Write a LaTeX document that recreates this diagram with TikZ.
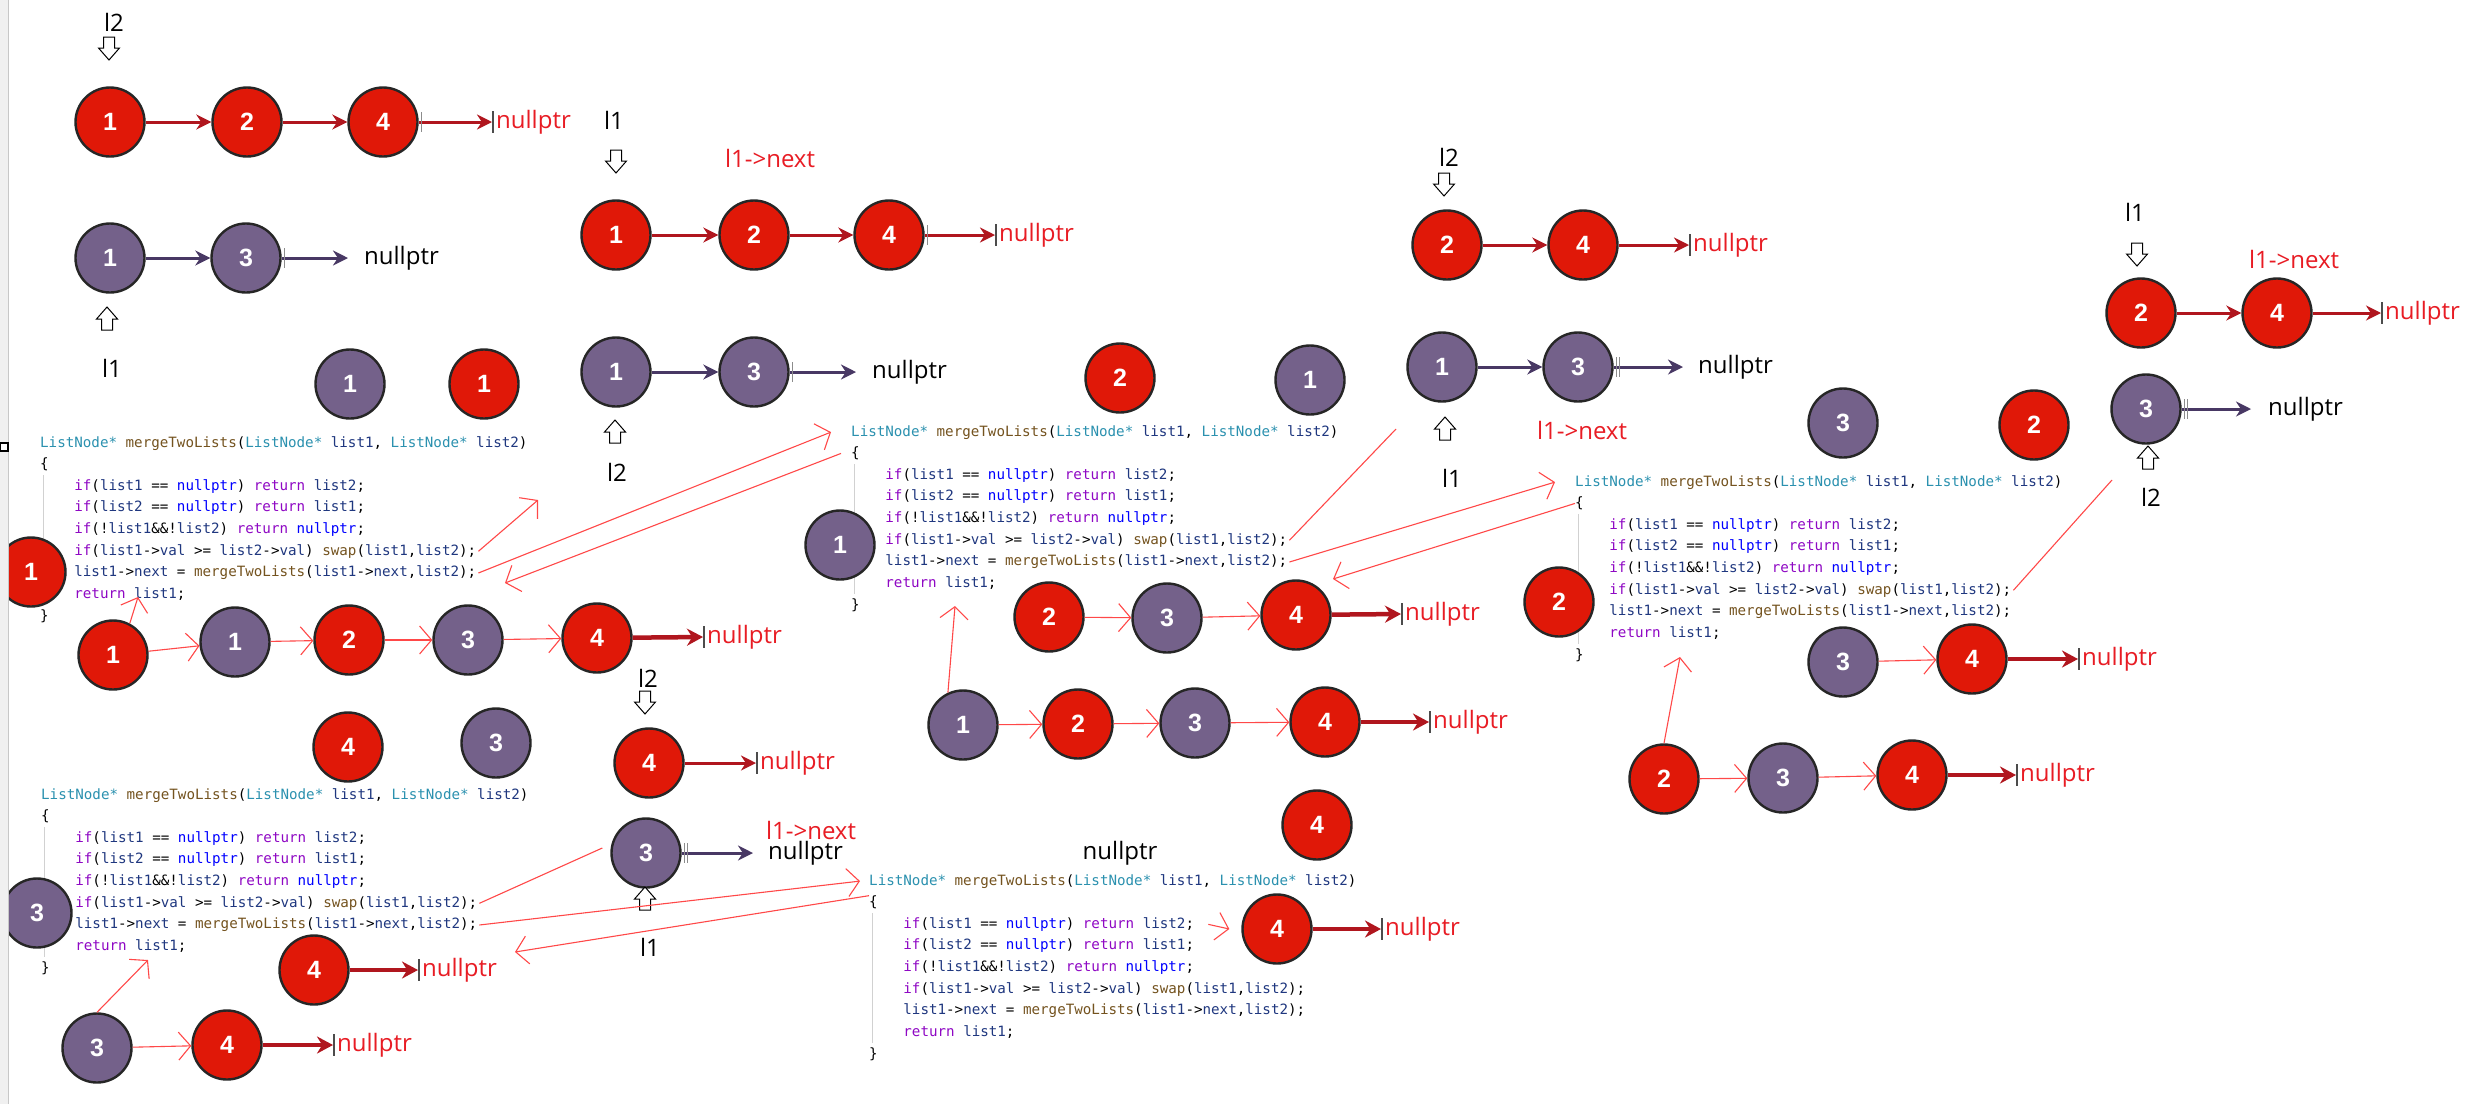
\documentclass[tikz,border=0pt]{standalone}
\usepackage{fontspec}
\usetikzlibrary{arrows.meta,calc}
\newfontfamily\lblfont{Open Sans}
\newfontfamily\digitfamily{Liberation Sans}
\newfontfamily\codefont{DejaVu Sans Mono}

\definecolor{nodered}{RGB}{224,24,8}
\definecolor{nodepurple}{RGB}{116,97,138}
\definecolor{linkred}{RGB}{176,22,30}
\definecolor{linkpurple}{RGB}{72,56,100}
\definecolor{penred}{RGB}{255,72,72}
\definecolor{nulred}{RGB}{232,28,36}
\definecolor{cType}{RGB}{43,145,175}
\definecolor{cFunc}{RGB}{116,83,31}
\definecolor{cKey}{RGB}{143,8,196}
\definecolor{cNull}{RGB}{0,0,255}
\definecolor{cVar}{RGB}{31,55,127}

\newcommand\cdTy[1]{\textcolor{cType}{#1}}
\newcommand\cdFn[1]{\textcolor{cFunc}{#1}}
\newcommand\cdKw[1]{\textcolor{cKey}{#1}}
\newcommand\cdNu[1]{\textcolor{cNull}{#1}}
\newcommand\cdVa[1]{\textcolor{cVar}{#1}}

\tikzset{
  lnode/.style={circle, draw=black!85, line width=2.4pt, minimum size=69pt, inner sep=0pt,
    text=white, font=\digitfamily\bfseries\fontsize{25}{30}\selectfont},
  rnode/.style={lnode, fill=nodered},
  pnode/.style={lnode, fill=nodepurple},
  lbl/.style={inner sep=0pt, font=\lblfont\fontsize{24}{28}\selectfont},
  rednull/.style={lbl, anchor=west, text=nulred},
  blacknull/.style={lbl, anchor=west, text=black},
  nexttxt/.style={lbl, text=nulred},
  redlink/.style={draw=linkred, line width=3pt, -{Stealth[length=15pt,width=15pt]}},
  purplelink/.style={draw=linkpurple, line width=3pt, -{Stealth[length=15pt,width=15pt]}},
  boldlink/.style={draw=linkred, line width=4.5pt, -{Stealth[length=16pt,width=17pt]}},
  penarrow/.style={draw=penred, line width=1.1pt, -{Straight Barb[length=12pt,width=28pt]}},
  penstroke/.style={draw=penred, line width=1.1pt},
  endbar/.style={draw=black!70, line width=1.4pt},
  hollowarrow/.style={draw=black, line width=1pt, fill=white, line join=miter},
  codeline/.style={anchor=base west, inner sep=0pt, font=\codefont\fontsize{14.2}{21.65}\selectfont},
  indentguide/.style={draw=black!18, line width=1pt},
}

% outlined block arrows (pointer markers)
\newcommand\hollowdown[2]{%
  \draw[hollowarrow] (#1-5.5,#2) -- (#1+5.5,#2) -- (#1+5.5,#2+11) -- (#1+10.5,#2+11)
    -- (#1,#2+23) -- (#1-10.5,#2+11) -- (#1-5.5,#2+11) -- cycle;}
\newcommand\hollowup[2]{%
  \draw[hollowarrow] (#1,#2) -- (#1+10.5,#2+12) -- (#1+5.5,#2+12) -- (#1+5.5,#2+23)
    -- (#1-5.5,#2+23) -- (#1-5.5,#2+12) -- (#1-10.5,#2+12) -- cycle;}

% the recursive merge function, one node per line
\newcommand\codeblock[3]{%
  \draw[indentguide] (#2+3,#3+28) -- (#2+3,#3+158);
  \node[codeline] (#1-1) at (#2,#3) {\cdTy{ListNode*} \cdFn{mergeTwoLists}(\cdTy{ListNode*} \cdVa{list1}, \cdTy{ListNode*} \cdVa{list2})};
  \node[codeline] (#1-2) at (#2,#3+21.65) {\{};
  \node[codeline] (#1-3) at (#2+34.2,#3+43.3) {\cdKw{if}(\cdVa{list1} == \cdNu{nullptr}) \cdKw{return} \cdVa{list2};};
  \node[codeline] (#1-4) at (#2+34.2,#3+64.95) {\cdKw{if}(\cdVa{list2} == \cdNu{nullptr}) \cdKw{return} \cdVa{list1};};
  \node[codeline] (#1-5) at (#2+34.2,#3+86.6) {\cdKw{if}(!\cdVa{list1}\&\&!\cdVa{list2}) \cdKw{return} \cdNu{nullptr};};
  \node[codeline] (#1-6) at (#2+34.2,#3+108.25) {\cdKw{if}(\cdVa{list1}->\cdVa{val} >= \cdVa{list2}->\cdVa{val}) \cdFn{swap}(\cdVa{list1},\cdVa{list2});};
  \node[codeline] (#1-7) at (#2+34.2,#3+129.9) {\cdVa{list1}->\cdVa{next} = \cdFn{mergeTwoLists}(\cdVa{list1}->\cdVa{next},\cdVa{list2});};
  \node[codeline] (#1-8) at (#2+34.2,#3+151.55) {\cdKw{return} \cdVa{list1};};
  \node[codeline] (#1-9) at (#2,#3+173.2) {\}};
}

\begin{document}
\begin{tikzpicture}[x=1pt,y=-1pt]
\useasboundingbox (0,0) rectangle (2485,1104);
\fill[white] (0,0) rectangle (2485,1104);

% ---------- code blocks ----------
\codeblock{C}{40}{447}
\codeblock{D}{41}{799}
\codeblock{E}{869}{885}
\codeblock{F}{851}{436}
\codeblock{H}{1575}{486}

% ---------- initial lists ----------
\node[lbl] (A-l2) at (114,22) {l2};
\hollowdown{109}{37}
\node[rnode] (A-r1) at (110,122) {1};
\node[rnode] (A-r2) at (247,122) {2};
\node[rnode] (A-r4) at (383,122) {4};
\node[rednull] (A-n) at (496,122) {nullptr};
\node[pnode] (A-p1) at (110,258) {1};
\node[pnode] (A-p3) at (246,258) {3};
\node[blacknull] (A-pn) at (364,258) {nullptr};
\hollowup{107}{307}
\node[lbl] (A-l1) at (112,368) {l1};

% ---------- first call ----------
\node[lbl] (B-l1) at (614,120) {l1};
\hollowdown{616}{150}
\node[nexttxt] (B-nx) at (770,158) {l1->next};
\node[rnode] (B-r1) at (616,235) {1};
\node[rnode] (B-r2) at (754,235) {2};
\node[rnode] (B-r4) at (889,235) {4};
\node[rednull] (B-n) at (999,235) {nullptr};
\node[pnode] (B-p1) at (616,372) {1};
\node[pnode] (B-p3) at (754,372) {3};
\node[blacknull] (B-pn) at (872,372) {nullptr};
\hollowup{615}{420}
\node[lbl] (B-l2) at (617,472) {l2};
\node[rnode] (B-x2) at (1120,378) {2};
\node[pnode] (B-x1) at (1310,380) {1};

\node[pnode] (C-x1) at (350,384) {1};
\node[rnode] (C-x1r) at (484,384) {1};
\node[rnode] (C-big) at (31,572) {1};
\node[rnode] (Cb-r1) at (113,655) {1};
\node[pnode] (Cb-p1) at (235,642) {1};
\node[rnode] (Cb-r2) at (349,640) {2};
\node[pnode] (Cb-p3) at (468,640) {3};
\node[rnode] (Cb-r4) at (597,638) {4};
\node[rednull] (Cb-n) at (707,637) {nullptr};

% ---------- deepest calls (lower left) ----------
\node[lbl] (D-l2) at (648,678) {l2};
\hollowdown{645}{691}
\node[rnode] (D-xr4) at (348,747) {4};
\node[pnode] (D-xp3) at (496,743) {3};
\node[rnode] (D-r4) at (649,763) {4};
\node[rednull] (D-n) at (760,763) {nullptr};
\node[pnode] (D-p3) at (646,853) {3};
\node[blacknull] (D-pn) at (768,853) {nullptr};
\node[nexttxt] (D-nx) at (811,830) {l1->next};
\hollowup{645}{887}
\node[lbl] (D-l1) at (650,947) {l1};
\node[pnode] (D-big) at (37,913) {3};
\node[rnode] (D-m4) at (314,970) {4};
\node[rednull] (D-mn) at (422,970) {nullptr};
\node[pnode] (Db-p3) at (97,1048) {3};
\node[rnode] (Db-r4) at (227,1045) {4};
\node[rednull] (Db-n) at (337,1045) {nullptr};

\node[lbl] (E-null) at (1120,853) {nullptr};
\node[rnode] (E-xr4) at (1317,825) {4};
\node[rnode] (E-r4) at (1277,929) {4};
\node[rednull] (E-n) at (1385,929) {nullptr};

% ---------- middle calls ----------
\node[pnode] (F-big) at (840,545) {1};
\node[rnode] (Fm-r2) at (1049,617) {2};
\node[pnode] (Fm-p3) at (1167,618) {3};
\node[rnode] (Fm-r4) at (1296,615) {4};
\node[rednull] (Fm-n) at (1405,614) {nullptr};
\node[pnode] (Fb-p1) at (963,725) {1};
\node[rnode] (Fb-r2) at (1078,724) {2};
\node[pnode] (Fb-p3) at (1195,723) {3};
\node[rnode] (Fb-r4) at (1325,722) {4};
\node[rednull] (Fb-n) at (1433,722) {nullptr};

\node[lbl] (G-l2) at (1449,157) {l2};
\hollowdown{1444}{173}
\node[rnode] (G-r2) at (1447,245) {2};
\node[rnode] (G-r4) at (1583,245) {4};
\node[rednull] (G-n) at (1693,245) {nullptr};
\node[pnode] (G-p1) at (1442,367) {1};
\node[pnode] (G-p3) at (1578,367) {3};
\node[blacknull] (G-pn) at (1698,367) {nullptr};
\hollowup{1445}{417}
\node[lbl] (G-l1) at (1452,478) {l1};
\node[nexttxt] (G-nx) at (1582,430) {l1->next};
\node[pnode] (G-xp3) at (1843,423) {3};
\node[rnode] (G-xr2) at (2034,425) {2};

\node[rnode] (H-big) at (1559,602) {2};
\node[pnode] (Hm-p3) at (1843,662) {3};
\node[rnode] (Hm-r4) at (1972,659) {4};
\node[rednull] (Hm-n) at (2082,659) {nullptr};
\node[rnode] (Hb-r2) at (1664,779) {2};
\node[pnode] (Hb-p3) at (1783,778) {3};
\node[rnode] (Hb-r4) at (1912,775) {4};
\node[rednull] (Hb-n) at (2020,775) {nullptr};

\node[lbl] (I-l1) at (2135,212) {l1};
\hollowdown{2137}{243}
\node[nexttxt] (I-nx) at (2294,259) {l1->next};
\node[rnode] (I-r2) at (2141,313) {2};
\node[rnode] (I-r4) at (2277,313) {4};
\node[rednull] (I-n) at (2385,313) {nullptr};
\node[pnode] (I-p3) at (2146,409) {3};
\node[blacknull] (I-pn) at (2268,409) {nullptr};
\hollowup{2148}{446}
\node[lbl] (I-l2) at (2151,497) {l2};

% ---------- list links ----------
\draw[redlink] (A-r1) -- (A-r2);
\draw[redlink] (A-r2) -- (A-r4);
\draw[redlink] (A-r4) -- ([xshift=-4pt]A-n.west);
\draw[purplelink] (A-p1) -- (A-p3);
\draw[purplelink] (A-p3) -- ([xshift=-16pt]A-pn.west);

\draw[redlink] (B-r1) -- (B-r2);
\draw[redlink] (B-r2) -- (B-r4);
\draw[redlink] (B-r4) -- ([xshift=-4pt]B-n.west);
\draw[purplelink] (B-p1) -- (B-p3);
\draw[purplelink] (B-p3) -- ([xshift=-16pt]B-pn.west);

\draw[boldlink] (Cb-r4) -- ([xshift=-4pt]Cb-n.west);
\draw[redlink] (D-r4) -- ([xshift=-4pt]D-n.west);
\draw[purplelink] (D-p3) -- ([xshift=-15pt]D-pn.west);
\draw[boldlink] (D-m4) -- ([xshift=-4pt]D-mn.west);
\draw[boldlink] (Db-r4) -- ([xshift=-4pt]Db-n.west);
\draw[boldlink] (E-r4) -- ([xshift=-4pt]E-n.west);
\draw[boldlink] (Fm-r4) -- ([xshift=-4pt]Fm-n.west);
\draw[boldlink] (Fb-r4) -- ([xshift=-4pt]Fb-n.west);

\draw[redlink] (G-r2) -- (G-r4);
\draw[redlink] (G-r4) -- ([xshift=-4pt]G-n.west);
\draw[purplelink] (G-p1) -- (G-p3);
\draw[purplelink] (G-p3) -- ([xshift=-15pt]G-pn.west);

\draw[boldlink] (Hm-r4) -- ([xshift=-4pt]Hm-n.west);
\draw[boldlink] (Hb-r4) -- ([xshift=-4pt]Hb-n.west);

\draw[redlink] (I-r2) -- (I-r4);
\draw[redlink] (I-r4) -- ([xshift=-4pt]I-n.west);
\draw[purplelink] (I-p3) -- ([xshift=-17pt]I-pn.west);

% bars at the null ends
\foreach \nn in {A-n,B-n,Cb-n,D-n,D-mn,Db-n,E-n,Fm-n,Fb-n,G-n,Hm-n,Hb-n,I-n}
  \draw[endbar] ([xshift=-3pt,yshift=11pt]\nn.west) -- ([xshift=-3pt,yshift=-11pt]\nn.west);
\foreach \nn in {A-p3,B-p3,D-p3,G-p3,I-p3,A-r4,B-r4}
  \draw[endbar, draw=black!45] ([xshift=3pt,yshift=10pt]\nn.east) -- ([xshift=3pt,yshift=-10pt]\nn.east);
\foreach \nn in {D-p3,G-p3,I-p3}
  \draw[endbar, draw=black!45, line width=1pt] ([xshift=6pt,yshift=10pt]\nn.east) -- ([xshift=6pt,yshift=-10pt]\nn.east);

% ---------- hand-drawn call / return arrows ----------
\coordinate (C-swapend) at (538,500);
\coordinate (C-back) at (505,583);
\coordinate (C-ret) at (138,597);
\draw[penarrow] ([xshift=2pt]C-6.east) -- (C-swapend);
\draw[penarrow] ([xshift=2pt]C-7.east) -- ([xshift=-20pt]F-1.west);
\draw[penarrow] ([xshift=-10pt]F-2.west) -- (C-back);
\draw[penarrow] (Cb-r1) -- (Cb-p1);
\draw[penarrow] (Cb-p1) -- (Cb-r2);
\draw[penarrow] (Cb-r2) -- (Cb-p3);
\draw[penarrow] (Cb-p3) -- (Cb-r4);
\draw[penarrow] (Cb-r1.62) -- (C-ret);

\coordinate (D-back) at (515,952);
\coordinate (D-ret) at (148,960);
\draw[penstroke] ([xshift=2pt]D-6.east) -- ([xshift=-8pt,yshift=5pt]D-p3.west);
\draw[penarrow] ([xshift=2pt]D-7.east) -- ([xshift=-9pt]E-1.west);
\draw[penarrow] (E-2.north west) -- (D-back);
\draw[penarrow] (Db-p3) -- (Db-r4);
\draw[penarrow] (Db-p3.north) -- (D-ret);

\draw[penarrow] ([xshift=14pt]E-3.east) -- ([xshift=-12pt]E-r4.west);

\coordinate (F-up) at (1396,429);
\coordinate (F-back) at (1333,579);
\coordinate (F-ret) at (955,606);
\draw[penstroke] ([xshift=2pt]F-6.east) -- (F-up);
\draw[penarrow] ([xshift=2pt]F-7.east) -- ([xshift=-20pt]H-1.west);
\draw[penarrow] (H-2.west) -- (F-back);
\draw[penarrow] (Fm-r2) -- (Fm-p3);
\draw[penarrow] (Fm-p3) -- (Fm-r4);
\draw[penarrow] (Fb-p1) -- (Fb-r2);
\draw[penarrow] (Fb-r2) -- (Fb-p3);
\draw[penarrow] (Fb-p3) -- (Fb-r4);
\draw[penarrow] (Fb-p1.115) -- (F-ret);

\coordinate (H-up) at (2112,480);
\coordinate (H-ret) at (1680,657);
\draw[penstroke] ([xshift=2pt]H-6.east) -- (H-up);
\draw[penarrow] (Hm-p3) -- (Hm-r4);
\draw[penarrow] (Hb-r2) -- (Hb-p3);
\draw[penarrow] (Hb-p3) -- (Hb-r4);
\draw[penarrow] (Hb-r2.north) -- (H-ret);

% ---------- window edge ----------
\fill[black!6] (0,0) rectangle (8,1104);
\draw[black!22, line width=1pt] (8.5,0) -- (8.5,1104);
\draw[black, fill=white, line width=1.2pt] (0.6,443) rectangle (8,451);
\end{tikzpicture}
\end{document}
